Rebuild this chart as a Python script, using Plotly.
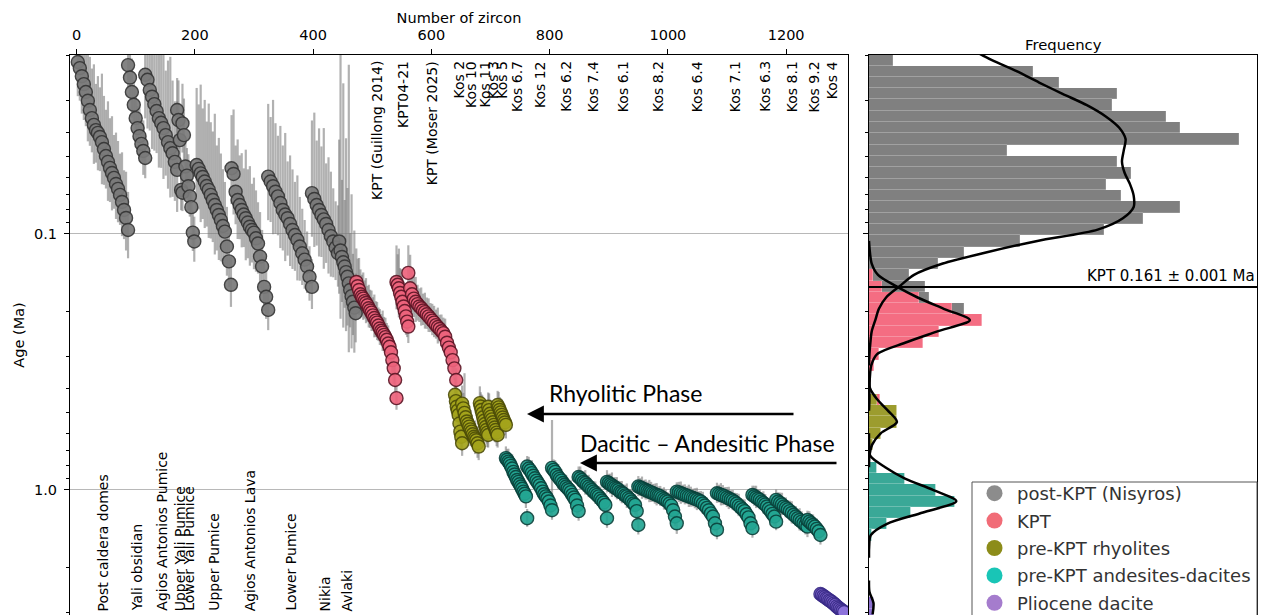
import numpy as np
import plotly.graph_objects as go

# ---------------- zircon ages (Ma) per sample, sorted young -> old; 2-sigma errors in % ----------------
age_post_caldera = [0.0213, 0.0225, 0.0242, 0.0260, 0.0279, 0.0302, 0.0328, 0.0353, 0.0375, 0.0393,
                    0.0403, 0.0418, 0.0438, 0.0466, 0.0496, 0.0523, 0.0552, 0.0578, 0.0604, 0.0638,
                    0.0667, 0.0704, 0.0750, 0.0806, 0.0866, 0.0965]
err_post_caldera = [36, 34, 40, 38, 36, 44, 38, 36, 42, 34, 40, 36, 46, 38, 34, 42, 36, 40, 32, 37, 35, 31, 36, 30, 34, 29]

age_yali_obsidian = [0.0219, 0.0245, 0.0279, 0.0313, 0.0353, 0.0386, 0.0415, 0.0445, 0.0474, 0.0505]
err_yali_obsidian = [24, 20, 26, 20, 24, 18, 22, 19, 24, 20]

age_aa_pumice = [0.0239, 0.0250, 0.0274, 0.0291, 0.0311, 0.0331, 0.0353, 0.0368, 0.0386, 0.0411,
                 0.0438, 0.0462, 0.0484, 0.0523, 0.0562]
err_aa_pumice = [48, 55, 44, 60, 52, 46, 56, 50, 58, 44, 52, 56, 48, 42, 46]

age_upper_yali = [0.0328, 0.0359, 0.0430, 0.0673, 0.0690]
err_upper_yali = [25, 30, 22, 20, 18]

age_lower_yali = [0.0370, 0.0411, 0.0545, 0.0592, 0.0651, 0.0713, 0.0786, 0.0988, 0.107]
err_lower_yali = [30, 28, 20, 22, 25, 20, 22, 18, 20]

age_upper_pumice = [0.0538, 0.0557, 0.0580, 0.0599, 0.0624, 0.0650, 0.0673, 0.0704, 0.0737, 0.0771,
                    0.0806, 0.0843, 0.0882, 0.0931, 0.0979, 0.112, 0.128, 0.158]
err_upper_pumice = [50, 44, 55, 46, 52, 44, 54, 48, 46, 56, 44, 50, 45, 40, 36, 30, 26, 22]

age_aa_lava = [0.0554, 0.0583, 0.0684, 0.0737, 0.0771, 0.0806, 0.0840, 0.0868, 0.0902, 0.0937,
               0.0965, 0.0988, 0.104, 0.109, 0.1226, 0.134, 0.161, 0.176, 0.198]
err_aa_lava = [38, 44, 34, 42, 36, 40, 34, 46, 38, 42, 34, 39, 35, 31, 33, 28, 24, 22, 20]

age_lower_pumice = [0.0597, 0.0624, 0.0651, 0.0684, 0.0713, 0.0757, 0.0806, 0.0840, 0.0868, 0.0914,
                    0.0965, 0.101, 0.1055, 0.112, 0.119, 0.126, 0.134, 0.147, 0.161]
err_lower_pumice = [48, 44, 54, 46, 42, 50, 44, 52, 40, 46, 42, 38, 44, 36, 33, 30, 27, 24, 22]

age_nikia = [0.0693, 0.0730, 0.0771, 0.0806, 0.0843, 0.0877, 0.0914, 0.0965, 0.102, 0.107, 0.113, 0.119]
err_nikia = [48, 54, 44, 52, 46, 56, 42, 48, 44, 38, 34, 35]

age_avlaki = [0.107, 0.116, 0.123, 0.129, 0.134, 0.141, 0.147, 0.156, 0.1655, 0.175, 0.184, 0.194, 0.204]
err_avlaki = [60, 85, 50, 80, 45, 70, 55, 86, 40, 60, 35, 50, 30]

age_kpt_guillong = [0.154, 0.160, 0.1655, 0.172, 0.176, 0.179, 0.183, 0.186, 0.190, 0.195,
                    0.199, 0.203, 0.208, 0.213, 0.218, 0.222, 0.228, 0.234, 0.239, 0.243,
                    0.248, 0.253, 0.259, 0.268, 0.276, 0.290, 0.311, 0.335, 0.372, 0.438]
err_kpt_guillong = [26, 22, 25, 20, 18, 21, 17, 20, 16, 19, 17, 18, 15, 19, 16, 17, 15, 16, 14, 18,
                    15, 16, 14, 15, 13, 14, 13, 15, 12, 11]

age_kpt0421 = [0.154, 0.158, 0.163, 0.170, 0.176, 0.184, 0.192, 0.200, 0.210, 0.220, 0.230]
err_kpt0421 = [28, 24, 30, 20, 22, 18, 20, 16, 18, 15, 16]

age_kpt_moser = [0.142, 0.163, 0.172, 0.179, 0.184, 0.188, 0.192, 0.195, 0.199, 0.202,
                 0.206, 0.210, 0.214, 0.218, 0.222, 0.227, 0.231, 0.235, 0.240, 0.244,
                 0.252, 0.266, 0.278, 0.290, 0.311, 0.335, 0.372]
err_kpt_moser = [22, 26, 20, 18, 20, 16, 15, 17, 14, 16, 14, 15, 13, 14, 14, 13, 16, 12, 14, 13,
                 15, 13, 14, 12, 12, 11, 10]

age_kos2 = [0.425, 0.45, 0.473, 0.49, 0.509, 0.55, 0.592, 0.62, 0.657]
err_kos2 = [14, 12, 15, 12, 13, 14, 12, 13, 12]
age_kos10 = [0.46, 0.48, 0.50, 0.52, 0.54, 0.553, 0.566, 0.58, 0.592, 0.606, 0.620, 0.630, 0.640, 0.657, 0.677]
err_kos10 = [15, 13, 30, 12, 14, 13, 12, 16, 14, 12, 13, 15, 12, 14, 13]
age_kos11 = [0.458, 0.472, 0.487, 0.503, 0.520, 0.537, 0.553, 0.568, 0.583, 0.597, 0.610]
err_kos11 = [14, 12, 13, 15, 12, 13, 14, 12, 13, 14, 12]
age_kos3 = [0.473, 0.488, 0.504, 0.517, 0.530, 0.544, 0.557, 0.570, 0.583, 0.597, 0.610]
err_kos3 = [12, 14, 12, 13, 14, 12, 13, 14, 12, 13, 12]
age_kos5 = [0.466, 0.476, 0.487, 0.498, 0.509, 0.521, 0.533, 0.545, 0.557]
err_kos5 = [12, 13, 11, 12, 13, 12, 11, 12, 13]

age_kos67 = [0.751, 0.762, 0.775, 0.788, 0.805, 0.825, 0.850, 0.870, 0.890, 0.914, 0.930, 0.950,
             0.970, 0.990, 1.015, 1.035, 1.06, 1.29]
err_kos67 = [10, 9, 11, 8, 10, 12, 9, 10, 8, 11, 9, 10, 8, 9, 10, 9, 11, 8]
age_kos12 = [0.81, 0.825, 0.84, 0.86, 0.88, 0.90, 0.92, 0.94, 0.96, 0.985, 1.015, 1.04, 1.06, 1.08,
             1.11, 1.15, 1.2]
err_kos12 = [9, 10, 8, 11, 9, 10, 8, 11, 9, 10, 8, 9, 10, 8, 9, 10, 9]
age_kos62 = [0.82, 0.835, 0.85, 0.874, 0.89, 0.905, 0.92, 0.94, 0.955, 0.97, 0.985, 1.0, 1.02, 1.045,
             1.07, 1.094, 1.15, 1.21]
err_kos62 = [35, 9, 10, 8, 11, 9, 10, 8, 9, 10, 9, 8, 10, 9, 8, 9, 10, 9]
age_kos74 = [0.89, 0.90, 0.915, 0.93, 0.94, 0.955, 0.97, 0.985, 1.0, 1.015, 1.03, 1.045, 1.06, 1.08,
             1.10, 1.12, 1.144, 1.29]
err_kos74 = [9, 10, 8, 9, 11, 8, 10, 9, 8, 9, 10, 8, 9, 10, 8, 9, 10, 9]
age_kos61 = [0.93, 0.94, 0.95, 0.96, 0.97, 0.98, 0.99, 1.0, 1.015, 1.025, 1.035, 1.05, 1.06, 1.075,
             1.09, 1.11, 1.13, 1.144, 1.21, 1.37]
err_kos61 = [10, 8, 9, 11, 8, 9, 10, 8, 9, 10, 8, 9, 11, 8, 9, 10, 8, 9, 10, 9]
age_kos82 = [0.97, 0.978, 0.985, 0.993, 1.0, 1.008, 1.015, 1.022, 1.03, 1.038, 1.045, 1.052, 1.06,
             1.072, 1.085, 1.097, 1.11, 1.13, 1.15, 1.2, 1.27, 1.35]
err_kos82 = [9, 8, 10, 8, 9, 8, 10, 9, 8, 9, 10, 8, 9, 8, 10, 9, 8, 9, 10, 8, 9, 10]
age_kos64 = [1.015, 1.022, 1.03, 1.037, 1.045, 1.052, 1.06, 1.067, 1.075, 1.082, 1.09, 1.10, 1.11,
             1.13, 1.15, 1.175, 1.2, 1.235, 1.27, 1.35, 1.43]
err_kos64 = [8, 9, 10, 8, 9, 8, 10, 9, 8, 9, 10, 8, 9, 10, 8, 9, 8, 10, 9, 8, 9]
age_kos71 = [1.03, 1.037, 1.045, 1.052, 1.06, 1.07, 1.08, 1.09, 1.10, 1.115, 1.13, 1.15, 1.17, 1.19,
             1.21, 1.245, 1.28, 1.35, 1.41]
err_kos71 = [9, 8, 10, 9, 8, 9, 10, 8, 9, 8, 9, 10, 8, 9, 10, 8, 9, 8, 9]
age_kos63 = [1.046, 1.058, 1.07, 1.082, 1.094, 1.11, 1.125, 1.14, 1.16, 1.185, 1.21, 1.24, 1.27, 1.33]
err_kos63 = [8, 9, 10, 8, 9, 8, 10, 9, 8, 9, 10, 8, 9, 8]
age_kos81 = [1.094, 1.11, 1.125, 1.14, 1.16, 1.175, 1.19, 1.21, 1.23, 1.25, 1.27, 1.29, 1.31, 1.33,
             1.35, 1.37, 1.39]
err_kos81 = [9, 8, 9, 10, 8, 9, 8, 9, 10, 8, 9, 8, 10, 9, 8, 9, 10]
age_kos92 = [1.31, 1.33, 1.35, 1.37, 1.39, 1.42, 1.45, 1.5]
err_kos92 = [8, 9, 8, 9, 8, 9, 8, 9]
age_kos4 = [2.55, 2.57, 2.6, 2.62, 2.65, 2.67, 2.7, 2.72, 2.75, 2.78, 2.81, 2.85, 2.88, 2.91, 2.94, 2.97, 3.0]
err_kos4 = [5, 4, 5, 4, 5, 4, 5, 4, 5, 4, 5, 4, 5, 4, 5, 4, 5]

# ---------------- sample table ----------------
sample_names = ["Post caldera domes", "Yali obsidian", "Agios Antonios Pumice", "Upper Yali Pumice",
                "Lower Yali Pumice", "Upper Pumice", "Agios Antonios Lava", "Lower Pumice", "Nikia", "Avlaki",
                "KPT (Guillong 2014)", "KPT04-21", "KPT (Moser 2025)",
                "Kos 2", "Kos 10", "Kos 11", "Kos 3", "Kos 5",
                "Kos 6.7", "Kos 12", "Kos 6.2", "Kos 7.4", "Kos 6.1", "Kos 8.2", "Kos 6.4", "Kos 7.1",
                "Kos 6.3", "Kos 8.1", "Kos 9.2", "Kos 4"]
sample_group = [0] * 10 + [1] * 3 + [2] * 5 + [3] * 11 + [4]
sample_first = [2, 87, 116, 170, 179, 203, 262, 324, 398, 444, 473, 541, 561,
                640, 652, 682, 696, 712, 726, 762, 804, 849, 897, 950, 1015, 1083, 1143, 1183, 1236, 1258]
sample_last = [87, 116, 170, 179, 199, 261, 324, 398, 442, 472, 541, 561, 642,
               652, 680, 696, 712, 726, 762, 804, 849, 897, 950, 1015, 1083, 1143, 1183, 1236, 1258, 1298]
sample_ages = [age_post_caldera, age_yali_obsidian, age_aa_pumice, age_upper_yali, age_lower_yali,
               age_upper_pumice, age_aa_lava, age_lower_pumice, age_nikia, age_avlaki,
               age_kpt_guillong, age_kpt0421, age_kpt_moser,
               age_kos2, age_kos10, age_kos11, age_kos3, age_kos5,
               age_kos67, age_kos12, age_kos62, age_kos74, age_kos61, age_kos82, age_kos64, age_kos71,
               age_kos63, age_kos81, age_kos92, age_kos4]
sample_errs = [err_post_caldera, err_yali_obsidian, err_aa_pumice, err_upper_yali, err_lower_yali,
               err_upper_pumice, err_aa_lava, err_lower_pumice, err_nikia, err_avlaki,
               err_kpt_guillong, err_kpt0421, err_kpt_moser,
               err_kos2, err_kos10, err_kos11, err_kos3, err_kos5,
               err_kos67, err_kos12, err_kos62, err_kos74, err_kos61, err_kos82, err_kos64, err_kos71,
               err_kos63, err_kos81, err_kos92, err_kos4]
label_at_bottom = [True] * 10 + [False] * 20

group_names = ["post-KPT (Nisyros)", "KPT", "pre-KPT rhyolites", "pre-KPT andesites-dacites", "Pliocene dacite"]
kpt_age = 0.161

# ---------------- histogram of log10(age): counts per bin ----------------
hist_log_start = -1.702
hist_bin_w = 0.0442
hist_post = [2.7, 18.2, 21.1, 27.6, 27.0, 33.0, 34.5, 41.1, 15.3, 27.6, 29.1, 26.3, 28.0, 34.5, 30.4,
             26.1, 16.8, 10.6, 7.7, 4.0, 4.8, 1.2, 1.3] + [0] * 27
hist_kpt = [0] * 19 + [0.4, 1.4, 5.5, 9.2, 12.6, 7.8, 6.0, 1.1, 0.6, 0.2, 0, 0.3] + [0] * 19
hist_rhy = [0] * 30 + [0.9, 3.1, 3.1, 1.3, 0.4] + [0] * 15
hist_and = [0] * 36 + [0.9, 4.0, 7.4, 9.6, 4.7, 2.0, 0.3] + [0] * 7
hist_plio = [0] * 48 + [0.5, 0.6]

# KDE curves (same units), sampled at bin centres starting one bin above the first bin
kde_post = [11.2, 13.6, 16.4, 18.9, 21.5, 24.2, 26.3, 27.8, 28.5, 28.3, 28.1, 28.4, 29.0, 29.4, 29.4,
            28.2, 25.4, 18.7, 13.1, 8.2, 5.0, 3.4, 1.9, 1.1, 0.7, 0.3, 0.15, 0.05] + [0] * 23
kde_kpt = [0] * 18 + [0.1, 0.3, 1.0, 3.0, 5.4, 8.3, 11.2, 7.6, 4.0, 0.9, 0.25, 0.1, 0.05, 0.05] + [0] * 19
kde_rhy = [0] * 30 + [0.1, 0.9, 2.1, 3.1, 1.3, 0.35, 0.05] + [0] * 14
kde_and = [0] * 35 + [0.02, 0.15, 1.8, 4.0, 7.1, 9.7, 6.0, 2.0, 0.2, 0.02] + [0] * 6
kde_plio = [0] * 48 + [0.05, 0.5, 0.4]

# ---------------- styling ----------------
W, H = 1263, 615
TOP, BOT = 55, 615
main_l, main_r = 70, 848
hist_l, hist_r = 869, 1257
y_lo, y_hi = 0.02, 3.08
x_lo, x_hi = -11.2, 1304.6

marker_fill = ["#7a7a7a", "#ee637c", "#a4a41b", "#23a693", "#8e74dc"]
marker_edge = ["#353535", "#5e1626", "#4e4e08", "#0a433c", "#3a2b88"]
legend_col = ["#808080", "#f05c68", "#808000", "#00bfae", "#9b6ec8"]
hist_col = ["#808080", "#f46d82", "#9c9c2e", "#3aa897", "#8c70d0"]
FONT = "DejaVu Sans"

fig = go.Figure()

# ---- build per-group scatter data ----
gx = [[] for _ in range(5)]
gy = [[] for _ in range(5)]
ge = [[] for _ in range(5)]
for name, g, a, b, ages, errs in zip(sample_names, sample_group, sample_first, sample_last, sample_ages, sample_errs):
    n = len(ages)
    xs = np.linspace(a, b, n)
    gx[g].extend(xs.tolist())
    gy[g].extend(ages)
    ge[g].extend([v * e / 100.0 for v, e in zip(ages, errs)])

# error bars first (behind all markers)
for g in range(5):
    fig.add_trace(go.Scatter(
        x=gx[g], y=gy[g], mode="markers", showlegend=False, hoverinfo="skip",
        marker=dict(size=1, color="rgba(0,0,0,0)"),
        error_y=dict(type="data", symmetric=False, array=ge[g], arrayminus=ge[g],
                     color="rgba(120,120,120,0.58)", thickness=2.2, width=0),
        xaxis="x", yaxis="y"))
# markers
for g in range(5):
    fig.add_trace(go.Scatter(
        x=gx[g], y=gy[g], mode="markers", showlegend=False, name=group_names[g],
        marker=dict(size=13, color=marker_fill[g], opacity=0.92,
                    line=dict(color=marker_edge[g], width=1.4)),
        xaxis="x", yaxis="y"))

# legend-only entries
for g in range(5):
    fig.add_trace(go.Scatter(
        x=[None], y=[None], mode="markers", name=group_names[g], showlegend=True,
        legendgroup=str(g),
        marker=dict(size=16, color=legend_col[g], opacity=0.9, line=dict(width=0)),
        xaxis="x", yaxis="y"))

# ---- histogram (stacked, horizontal) ----
nb = len(hist_post)
centers = hist_log_start + hist_bin_w * (np.arange(nb) + 0.5)
for g, counts in [(4, hist_plio), (3, hist_and), (2, hist_rhy), (1, hist_kpt), (0, hist_post)]:
    fig.add_trace(go.Bar(
        x=counts, y=centers, orientation="h", width=hist_bin_w, showlegend=False,
        marker=dict(color=hist_col[g], line=dict(width=0.4, color="rgba(255,255,255,0.35)")),
        hoverinfo="skip", xaxis="x2", yaxis="y2"))

kde_centers = hist_log_start + hist_bin_w * (np.arange(-1, nb) + 0.5)
for kde in [kde_post, kde_kpt, kde_rhy, kde_and, kde_plio]:
    arr = np.array(kde, dtype=float)
    nz = np.nonzero(arr)[0]
    i0, i1 = max(nz[0] - 1, 0), min(nz[-1] + 2, len(arr))
    fig.add_trace(go.Scatter(
        x=arr[i0:i1], y=kde_centers[i0:i1], mode="lines", showlegend=False, hoverinfo="skip",
        line=dict(color="black", width=2.5, shape="spline", smoothing=0.8),
        xaxis="x2", yaxis="y2"))

# ---- sample labels ----
annotations = []
for name, a, b, bottom in zip(sample_names, sample_first, sample_last, label_at_bottom):
    xm = 0.5 * (a + b)
    if bottom:
        annotations.append(dict(x=xm, y=0, xref="x", yref="y domain", text=name, showarrow=False,
                                textangle=-90, xanchor="center", yanchor="bottom", yshift=2,
                                font=dict(family=FONT, size=14, color="black")))
    else:
        annotations.append(dict(x=xm, y=1, xref="x", yref="y domain", text=name, showarrow=False,
                                textangle=-90, xanchor="center", yanchor="top", yshift=-4,
                                font=dict(family=FONT, size=14, color="black")))


def px_x(p):
    return p / W


def px_y(p):
    return (BOT - p) / (BOT - TOP)


annotations += [
    dict(x=0.5, y=1, xref="x2 domain", yref="paper", text="Frequency", showarrow=False,
         xanchor="center", yanchor="middle", yshift=11, font=dict(family=FONT, size=14.8, color="black")),
    dict(x=1, y=np.log10(kpt_age), xref="x2 domain", yref="y2", text="KPT 0.161 \u00b1 0.001 Ma",
         showarrow=False, xanchor="right", yanchor="bottom", yshift=0, xshift=0,
         font=dict(family=FONT, size=15, color="black")),
    dict(x=px_x(625), y=px_y(393), xref="paper", yref="paper", text="Rhyolitic Phase", showarrow=False,
         xanchor="center", yanchor="middle", font=dict(family="Lato", size=23, color="black")),
    dict(x=px_x(707), y=px_y(443), xref="paper", yref="paper", text="Dacitic \u2013 Andesitic Phase",
         showarrow=False, xanchor="center", yanchor="middle", font=dict(family="Lato", size=23, color="black")),
    dict(x=px_x(527), y=px_y(414), xref="paper", yref="paper", text="", showarrow=True,
         ax=268, ay=0, axref="pixel", ayref="pixel", arrowhead=2, arrowsize=1.3, arrowwidth=2.6,
         arrowcolor="black", standoff=0, startstandoff=0),
    dict(x=px_x(580), y=px_y(463), xref="paper", yref="paper", text="", showarrow=True,
         ax=258, ay=0, axref="pixel", ayref="pixel", arrowhead=2, arrowsize=1.3, arrowwidth=2.6,
         arrowcolor="black", standoff=0, startstandoff=0),
]

shapes = [
    dict(type="line", xref="x domain", x0=0, x1=1, yref="y", y0=np.log10(kpt_age), y1=np.log10(kpt_age),
         line=dict(color="black", width=2)),
    dict(type="line", xref="x2 domain", x0=0, x1=1, yref="y2", y0=np.log10(kpt_age), y1=np.log10(kpt_age),
         line=dict(color="black", width=2)),
    # legend frame (legend box runs past the bottom edge)
    dict(type="rect", xref="paper", yref="paper", x0=px_x(972), x1=px_x(1257), y0=px_y(660), y1=px_y(482),
         fillcolor="white", line=dict(color="#555", width=1), layer="above"),
]

minor_vals = [0.02, 0.03, 0.04, 0.05, 0.06, 0.07, 0.08, 0.09,
              0.2, 0.3, 0.4, 0.5, 0.6, 0.7, 0.8, 0.9, 2, 3]
major_vals = [0.1, 1.0]

fig.update_layout(
    width=W, height=H,
    margin=dict(l=0, r=0, t=TOP, b=H - BOT, pad=0, autoexpand=False),
    paper_bgcolor="white", plot_bgcolor="white",
    barmode="stack", bargap=0,
    showlegend=True,
    legend=dict(x=px_x(972), y=px_y(475), xanchor="left", yanchor="top", bgcolor="rgba(0,0,0,0)",
                borderwidth=0, traceorder="grouped", tracegroupgap=1,
                font=dict(family=FONT, size=18, color="#333"), itemwidth=35),
    xaxis=dict(domain=[px_x(main_l), px_x(main_r)], range=[x_lo, x_hi], side="top", anchor="y",
               tickvals=[0, 200, 400, 600, 800, 1000, 1200], ticks="outside", ticklen=5, tickcolor="black",
               ticklabelstandoff=3,
               showgrid=False, zeroline=False, showline=True, mirror=True, linecolor="black", linewidth=1,
               tickfont=dict(family=FONT, size=14.5, color="black"),
               title=dict(text="Number of zircon", standoff=0, font=dict(family=FONT, size=14.5, color="black"))),
    yaxis=dict(domain=[0, 1], type="log", range=[np.log10(y_hi), np.log10(y_lo)], anchor="x",
               tickvals=major_vals, ticktext=["0.1", "1.0"], ticks="outside", ticklen=5, tickcolor="black",
               ticklabelstandoff=4,
               minor=dict(tickvals=minor_vals, ticks="outside", ticklen=3, tickcolor="black", showgrid=False),
               showgrid=True, gridcolor="#b8b8b8", gridwidth=1, zeroline=False,
               showline=True, mirror=True, linecolor="black", linewidth=1,
               tickfont=dict(family=FONT, size=14.5, color="black"),
               title=dict(text="Age (Ma)", standoff=5, font=dict(family=FONT, size=14.5, color="black"))),
    xaxis2=dict(domain=[px_x(hist_l), px_x(hist_r)], range=[0, 43.1], anchor="y2",
                showticklabels=False, ticks="", showgrid=False, zeroline=False,
                showline=True, mirror=True, linecolor="black", linewidth=1),
    yaxis2=dict(domain=[0, 1], range=[np.log10(y_hi), np.log10(y_lo)], anchor="x2",
                tickvals=np.log10(major_vals).tolist(), ticks="outside", ticklen=5, tickcolor="black",
                showticklabels=False,
                minor=dict(tickvals=np.log10(minor_vals).tolist(), ticks="outside", ticklen=3,
                           tickcolor="black", showgrid=False),
                showgrid=False, zeroline=False, showline=True, mirror=True, linecolor="black", linewidth=1),
    annotations=annotations,
    shapes=shapes,
)

fig.write_html("out.html", config={"displayModeBar": False},
               post_script="document.body.style.margin='0px';document.body.style.overflow='hidden';")
